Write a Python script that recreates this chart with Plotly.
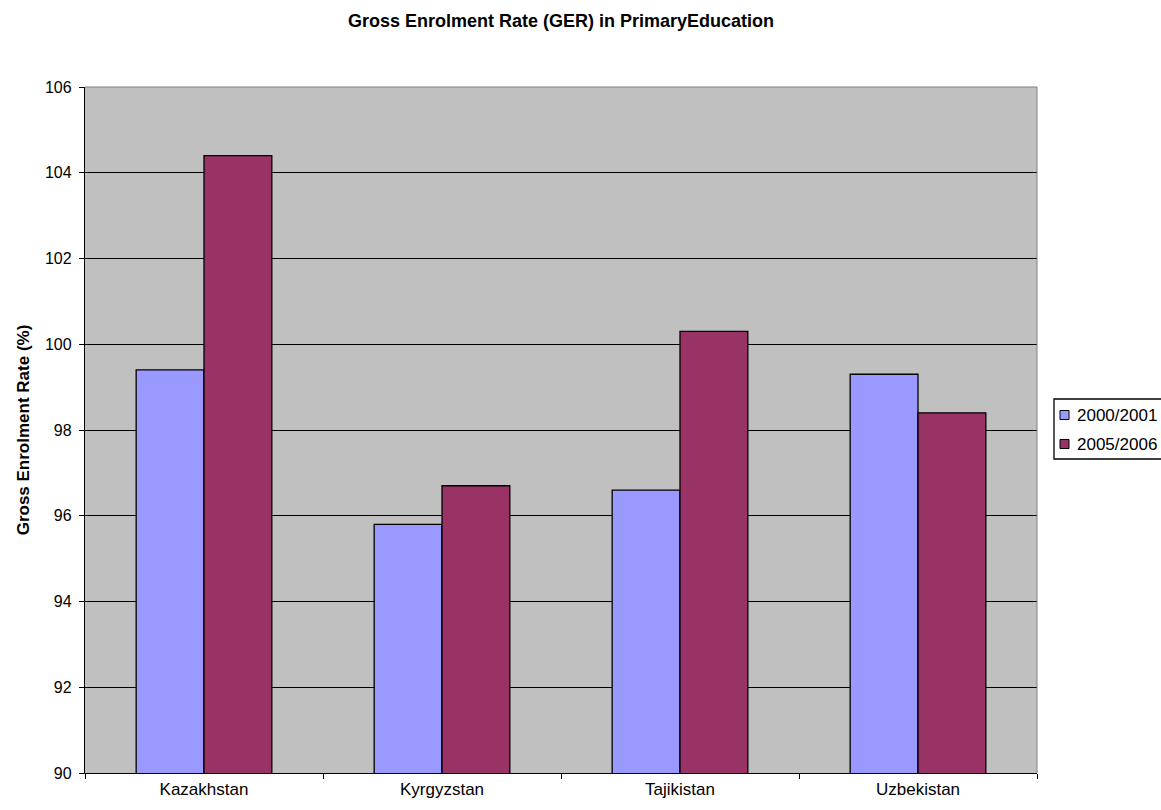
import plotly.graph_objects as go

# Gross enrolment rate in primary education, by country and school year
countries = ["Kazakhstan", "Kyrgyzstan", "Tajikistan", "Uzbekistan"]
ger_2000 = [99.4, 95.8, 96.6, 99.3]
ger_2005 = [104.4, 96.7, 100.3, 98.4]
series_names = ["2000/2001", "2005/2006"]
series_colors = ["#9999FF", "#993366"]
y_ticks = [90, 92, 94, 96, 98, 100, 102, 104, 106]

FONT = "Liberation Sans, Arial, sans-serif"
W, H = 1161, 810
M = dict(l=85, r=124, t=87, b=37)
PLOT_W = W - M["l"] - M["r"]
PLOT_H = H - M["t"] - M["b"]


def px_x(px):
    """page x pixel -> paper coordinate"""
    return (px - M["l"]) / PLOT_W


def px_y(py):
    """page y pixel (from top) -> paper coordinate"""
    return (H - M["b"] - py) / PLOT_H


fig = go.Figure()
for name, vals, col in zip(series_names, [ger_2000, ger_2005], series_colors):
    fig.add_trace(go.Bar(
        x=countries, y=vals, name=name,
        marker=dict(color=col, line=dict(color="#000000", width=1.3)),
    ))

fig.update_layout(
    width=W, height=H,
    margin=dict(**M, autoexpand=False),
    paper_bgcolor="#FFFFFF",
    plot_bgcolor="#C0C0C0",
    font=dict(family=FONT, size=16, color="#000000"),
    title=dict(
        text="<b>Gross Enrolment Rate (GER) in PrimaryEducation</b>",
        x=0.5, xref="paper", xanchor="center",
        y=1 - 21 / H, yanchor="middle",
        font=dict(family=FONT, size=18, color="#000000"),
    ),
    barmode="group",
    bargap=0.43,
    bargroupgap=0,
    showlegend=False,
)

fig.update_xaxes(
    type="category",
    showline=True, linecolor="#000000", linewidth=1.3,
    ticks="outside", tickson="boundaries", ticklen=5,
    tickcolor="#000000", tickwidth=1,
    showgrid=False,
    tickfont=dict(family=FONT, size=17),
)
fig.update_yaxes(
    range=[90, 106],
    tickvals=y_ticks,
    showline=True, linecolor="#000000", linewidth=1.3,
    ticks="outside", ticklen=5, tickcolor="#000000", tickwidth=1,
    ticklabelstandoff=4,
    showgrid=True, gridcolor="#000000", gridwidth=1,
    zeroline=False,
    tickfont=dict(family=FONT, size=16),
    title=dict(text="<b>Gross Enrolment Rate (%)</b>", standoff=10,
               font=dict(family=FONT, size=17)),
)

# thin grey border on the top and right of the plot area
fig.add_shape(type="line", xref="paper", yref="paper",
              x0=1, x1=1, y0=0, y1=1, line=dict(color="#808080", width=1))
fig.add_shape(type="line", xref="paper", yref="paper",
              x0=0, x1=1, y0=1, y1=1, line=dict(color="#808080", width=1))

# legend box with square swatches
fig.add_shape(type="rect", xref="paper", yref="paper",
              x0=px_x(1054), x1=px_x(1175), y0=px_y(459), y1=px_y(399),
              line=dict(color="#000000", width=1.3), fillcolor="#FFFFFF",
              layer="above")
for i, (name, col) in enumerate(zip(series_names, series_colors)):
    cy = 415 + i * 29
    fig.add_shape(type="rect", xref="paper", yref="paper",
                  x0=px_x(1060), x1=px_x(1069),
                  y0=px_y(cy + 4.5), y1=px_y(cy - 4.5),
                  line=dict(color="#000000", width=1), fillcolor=col,
                  layer="above")
    fig.add_annotation(x=px_x(1075), y=px_y(cy), xref="paper", yref="paper",
                       text=name, showarrow=False, xanchor="left",
                       yanchor="middle",
                       font=dict(family=FONT, size=17, color="#000000"))

fig.write_html("out.html")
